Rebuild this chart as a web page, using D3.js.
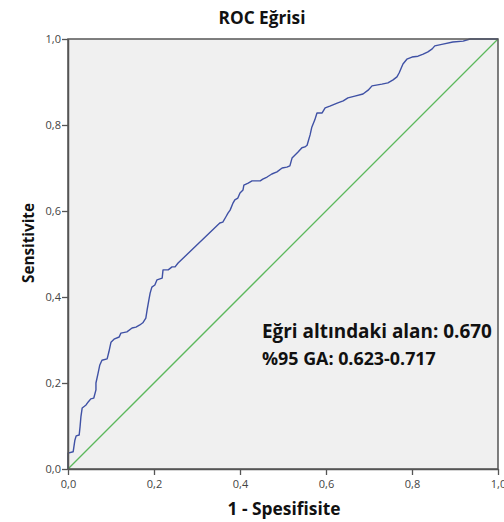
<!DOCTYPE html>
<html><head><meta charset="utf-8">
<script src="https://cdn.jsdelivr.net/npm/d3@7/dist/d3.min.js"></script>
<style>body{margin:0;background:#fff}</style>
</head><body>
<svg id="c" width="504" height="522"></svg>
<script>
const title = "ROC Eğrisi";
const xLabel = "1 - Spesifisite";
const yLabel = "Sensitivite";
const tickValues = [0, 0.2, 0.4, 0.6, 0.8, 1.0];
const tickLabels = ["0,0", "0,2", "0,4", "0,6", "0,8", "1,0"];
const annotation = ["Eğri altındaki alan: 0.670", "%95 GA: 0.623-0.717"];
const fpr = [0,0,0.012,0.016,0.019,0.026,0.028,0.030,0.033,0.042,0.047,0.053,0.060,0.065,0.065,0.070,0.074,0.079,0.091,0.095,0.100,0.107,0.119,0.123,0.137,0.149,0.158,0.167,0.174,0.181,0.184,0.188,0.191,0.195,0.202,0.207,0.219,0.221,0.233,0.242,0.249,0.256,0.353,0.360,0.367,0.372,0.377,0.384,0.388,0.395,0.400,0.407,0.409,0.419,0.428,0.447,0.453,0.463,0.474,0.486,0.498,0.509,0.516,0.521,0.528,0.535,0.544,0.551,0.556,0.563,0.567,0.574,0.579,0.591,0.598,0.609,0.626,0.640,0.651,0.667,0.686,0.698,0.707,0.730,0.744,0.756,0.765,0.770,0.779,0.788,0.800,0.814,0.826,0.837,0.847,0.853,0.872,0.895,0.919,0.935,1.0];
const tpr = [0,0.037,0.040,0.067,0.077,0.079,0.098,0.121,0.142,0.149,0.156,0.163,0.165,0.184,0.200,0.223,0.242,0.253,0.256,0.272,0.295,0.302,0.307,0.316,0.319,0.328,0.330,0.335,0.340,0.351,0.370,0.393,0.409,0.423,0.428,0.440,0.444,0.463,0.463,0.470,0.470,0.479,0.572,0.574,0.586,0.595,0.602,0.619,0.626,0.630,0.642,0.649,0.660,0.665,0.670,0.670,0.674,0.679,0.686,0.691,0.700,0.702,0.705,0.723,0.730,0.737,0.747,0.749,0.753,0.777,0.795,0.812,0.828,0.828,0.840,0.844,0.851,0.856,0.863,0.867,0.872,0.881,0.891,0.895,0.898,0.905,0.912,0.921,0.942,0.953,0.958,0.960,0.965,0.970,0.977,0.984,0.988,0.993,0.995,1.0,1.0];

const svg = d3.select("#c");
const L = 68, R = 498, T = 39, B = 469;
const x = d3.scaleLinear().domain([0,1]).range([L,R]);
const y = d3.scaleLinear().domain([0,1]).range([B,T]);
const font = "'Open Sans', sans-serif";
const tickFont = "'Open Sans', sans-serif";

svg.append("rect").attr("x",L).attr("y",T).attr("width",R-L).attr("height",B-T).attr("fill","#f0f0f0");

svg.append("path").datum([0,1])
  .attr("d", d3.line().x(d=>x(d)).y(d=>y(d)))
  .attr("stroke","#5cb85c").attr("stroke-width",1.3).attr("fill","none");

const pts = fpr.map((v,i)=>[v,tpr[i]]);
svg.append("path").datum(pts)
  .attr("d", d3.line().x(d=>x(d[0])).y(d=>y(d[1])))
  .attr("stroke","#3f51a5").attr("stroke-width",1.4).attr("fill","none").attr("stroke-linejoin","round");

svg.append("rect").attr("x",L).attr("y",T).attr("width",R-L).attr("height",B-T)
  .attr("fill","none").attr("stroke","#555").attr("stroke-width",1.5);

const fmt = d => tickLabels[tickValues.indexOf(d)];
const xa = svg.append("g").attr("transform",`translate(0,${B})`)
  .call(d3.axisBottom(x).tickValues(tickValues).tickFormat(fmt).tickSize(6).tickSizeOuter(0));
const ya = svg.append("g").attr("transform",`translate(${L},0)`)
  .call(d3.axisLeft(y).tickValues(tickValues).tickFormat(fmt).tickSize(6).tickSizeOuter(0));
[xa,ya].forEach(g=>{
  g.select(".domain").attr("stroke","#555").attr("stroke-width",1.5);
  g.selectAll(".tick line").attr("stroke","#555").attr("stroke-width",1.3);
  g.selectAll("text").attr("fill","#444").style("font-family",tickFont).style("font-size","11px");
});
xa.selectAll("text").attr("dy","0.9em");
ya.selectAll("text").attr("x",-7);

function fit(sel, target){
  const w = sel.node().getComputedTextLength();
  const fs = parseFloat(sel.style("font-size"));
  sel.style("font-size", (fs*target/w).toFixed(2)+"px");
  return sel;
}
function boldText(t,xp,yp,anchor,target,transform){
  const s = svg.append("text").attr("text-anchor",anchor)
    .style("font-family",font).style("font-weight","bold").style("font-size","15px").attr("fill","#111").text(t);
  if(transform) s.attr("transform",transform); else s.attr("x",xp).attr("y",yp);
  return fit(s,target);
}
boldText(title,262,24,"middle",87);
boldText(xLabel,284,515,"middle",113);
boldText(yLabel,0,0,"middle",80,"translate(34,243) rotate(-90)");
boldText(annotation[0],262,338,"start",230);
boldText(annotation[1],262,365,"start",174);
</script>
</body></html>
